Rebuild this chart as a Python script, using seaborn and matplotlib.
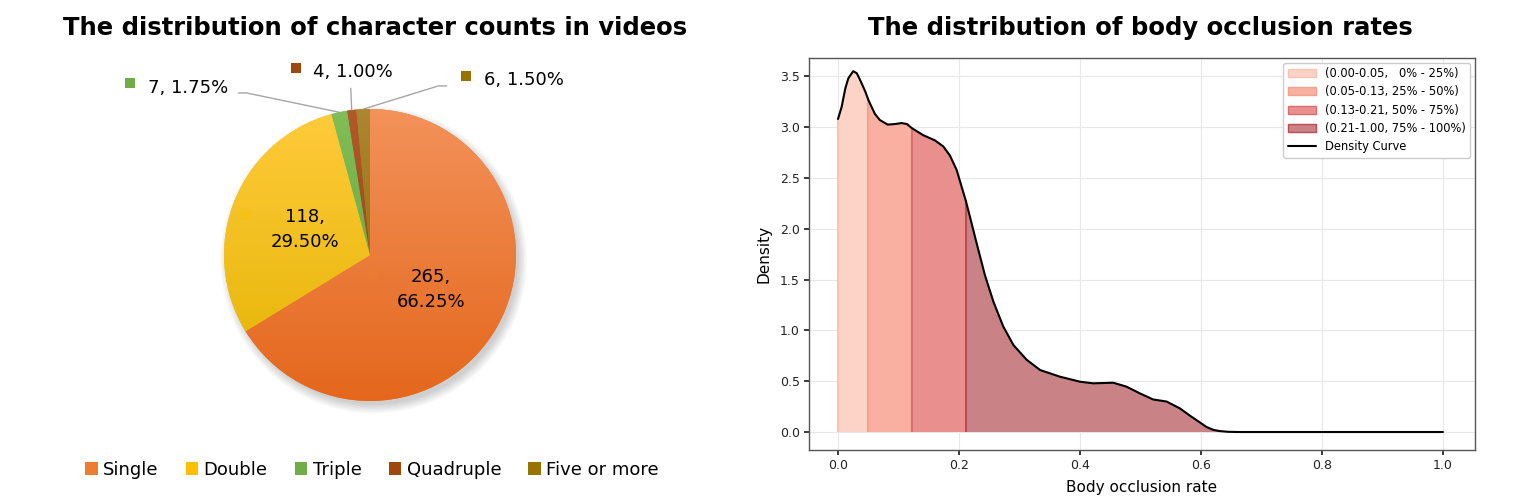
import numpy as np
import matplotlib
matplotlib.use("Agg")
import matplotlib.pyplot as plt
import seaborn as sns
from matplotlib.patches import Patch, Circle
from matplotlib.lines import Line2D
from matplotlib.colors import LinearSegmentedColormap

# ---------------- data ----------------
pie_labels = ["Single", "Double", "Triple", "Quadruple", "Five or more"]
pie_counts = [265, 118, 7, 4, 6]
pie_pcts = ["66.25%", "29.50%", "1.75%", "1.00%", "1.50%"]
pie_colors = ["#ED7D31", "#FFC000", "#70AD47", "#9E480E", "#997300"]
pie_top = ["#F3925A", "#FFCB3C", "#80BE58", "#B2592A", "#AC8730"]
pie_bot = ["#E4671C", "#E3B300", "#5F9E3A", "#8C3C0A", "#876400"]

occ_x = [0.000, 0.006, 0.012, 0.017, 0.025, 0.031, 0.036, 0.045, 0.050, 0.053,
         0.061, 0.069, 0.082, 0.094, 0.105, 0.114, 0.122, 0.141, 0.160, 0.174,
         0.185, 0.196, 0.207, 0.211, 0.218, 0.229, 0.243, 0.257, 0.273, 0.290,
         0.312, 0.334, 0.367, 0.400, 0.422, 0.455, 0.477, 0.499, 0.521, 0.543,
         0.565, 0.582, 0.598, 0.609, 0.620, 0.631, 0.645, 0.660, 0.700, 1.000]
occ_density = [3.08, 3.20, 3.38, 3.48, 3.55, 3.53, 3.47, 3.35, 3.27, 3.23,
               3.13, 3.07, 3.025, 3.03, 3.04, 3.03, 2.99, 2.92, 2.87, 2.81,
               2.72, 2.58, 2.36, 2.28, 2.12, 1.86, 1.54, 1.28, 1.04, 0.855,
               0.71, 0.61, 0.544, 0.495, 0.479, 0.485, 0.446, 0.38, 0.32, 0.30,
               0.233, 0.16, 0.095, 0.05, 0.022, 0.009, 0.002, 0.0, 0.0, 0.0]
quantile_edges = [0.0, 0.05, 0.122, 0.211, 1.0]
quantile_labels = ["(0.00-0.05,   0% - 25%)", "(0.05-0.13, 25% - 50%)",
                   "(0.13-0.21, 50% - 75%)", "(0.21-1.00, 75% - 100%)"]
band_face = ["#FDD3C7", "#F9B0A1", "#E9908F", "#C98286"]
band_edge = ["#F9C3B3", "#F4A08A", "#DC6D6E", "#C04B53"]

# ---------------- style ----------------
sns.set_theme(style="whitegrid", rc={
    "axes.edgecolor": "#555555", "axes.linewidth": 1.0,
    "grid.color": "#E8E8E8", "grid.linewidth": 0.8,
    "xtick.bottom": True, "ytick.left": True,
    "xtick.major.size": 3.5, "ytick.major.size": 3.5,
    "xtick.color": "#222222", "ytick.color": "#222222",
    "text.color": "black", "axes.labelcolor": "black",
})
plt.rcParams["font.family"] = ["DejaVu Sans"]

W, H = 1522, 498
fig = plt.figure(figsize=(W / 100, H / 100), dpi=100)

# ---------------- pie ----------------
R = 146.0
cx, cy = 370.0, 255.0
axp = fig.add_axes([0, 0, 761 / W, 1])
axp.set_axis_off()

# soft shadow (bottom-right)
for k in range(7):
    axp.add_patch(Circle((0.025, -0.035), 0.99 + 0.01 * k, color="#000000",
                         alpha=0.028, lw=0, zorder=0))

wedges, _ = axp.pie(pie_counts, startangle=90, counterclock=False, radius=1,
                    colors=pie_colors, wedgeprops=dict(linewidth=0), center=(0, 0))
grad = np.linspace(0, 1, 256).reshape(-1, 1)
for w, ct, cb in zip(wedges, pie_top, pie_bot):
    cmap = LinearSegmentedColormap.from_list("g", [cb, ct])
    im = axp.imshow(grad, extent=(-1, 1, -1, 1), origin="lower", cmap=cmap,
                    aspect="auto", zorder=2, interpolation="bilinear")
    im.set_clip_path(w)

axp.set_xlim(-cx / R, (761 - cx) / R)
axp.set_ylim((cy - H) / R, cy / R)
axp.set_aspect("auto")

def mid_angle(w):
    return np.deg2rad((w.theta1 + w.theta2) / 2)

# inner labels
for i in (0, 1):
    a = mid_angle(wedges[i])
    x, y = 0.48 * np.cos(a), 0.48 * np.sin(a)
    axp.text(x, y, f"{pie_counts[i]},\n{pie_pcts[i]}", ha="center", va="center",
             fontsize=13, linespacing=1.5, zorder=5)
    axp.scatter([x - 0.40], [y + 0.10], marker="s", s=45, color=pie_colors[i],
                alpha=0.35, zorder=4, linewidths=0)

# outer labels with leader lines (marker pos, text pos, elbow pos)
outer = {
    2: ((-1.644, 1.178), (-1.52, 1.144), [(-0.90, 1.110), (-0.846, 1.110)]),
    3: ((-0.507, 1.281), (-0.39, 1.253), [(-0.132, 1.142)]),
    4: ((0.658, 1.226), (0.781, 1.199), [(0.525, 1.158), (0.468, 1.158)]),
}
for i, (mpos, tpos, elbow) in outer.items():
    a = mid_angle(wedges[i])
    ex, ey = np.cos(a), np.sin(a)
    pts = elbow + [(ex, ey)]
    axp.plot([p[0] for p in pts], [p[1] for p in pts], color="#A6A6A6", lw=1.0,
             zorder=1, clip_on=False)
    axp.scatter([mpos[0]], [mpos[1]], marker="s", s=55, color=pie_colors[i],
                zorder=4, linewidths=0, clip_on=False)
    axp.text(tpos[0], tpos[1], f"{pie_counts[i]}, {pie_pcts[i]}", ha="left",
             va="center", fontsize=13, clip_on=False)

fig.text(375 / W, 1 - 28 / H, "The distribution of character counts in videos",
         ha="center", va="center", fontsize=17.5, fontweight="bold")

pie_handles = [Patch(facecolor=c, edgecolor="none") for c in pie_colors]
fig.legend(pie_handles, pie_labels, loc="center", ncol=5,
           bbox_to_anchor=(372 / W, 1 - 470 / H), frameon=False, fontsize=13,
           handlelength=0.7, handleheight=0.7, handletextpad=0.3,
           columnspacing=1.5)

# ---------------- density ----------------
ax = fig.add_axes([809 / W, 1 - 450 / H, (1475 - 809) / W, (450 - 58) / H])
xs = np.array(occ_x)
ys = np.array(occ_density)
for k in range(4):
    lo, hi = quantile_edges[k], quantile_edges[k + 1]
    m = (xs >= lo) & (xs <= hi)
    ax.fill_between(xs[m], 0, ys[m], facecolor=band_face[k],
                    edgecolor="none", linewidth=0, zorder=2)
    # boundary line at the left edge of each band
    ax.vlines(xs[m][0], 0, ys[m][0], color=band_edge[k], lw=1.5, zorder=2.5)
sns.lineplot(x=occ_x, y=occ_density, color="black", lw=1.5, ax=ax, zorder=3)

ax.set_xlim(-0.048, 1.053)
ax.set_ylim(-0.177, 3.68)
ax.set_xticks(np.arange(0, 1.01, 0.2))
ax.set_yticks(np.arange(0, 3.51, 0.5))
ax.tick_params(labelsize=9, pad=3)
ax.set_xlabel("Body occlusion rate", fontsize=11, labelpad=6)
ax.set_ylabel("Density", fontsize=11, labelpad=6)
for s in ax.spines.values():
    s.set_visible(True)
ax.set_axisbelow(True)

handles = [Patch(facecolor=f, edgecolor=e, linewidth=1.0)
           for f, e in zip(band_face, band_edge)]
handles.append(Line2D([0], [0], color="black", lw=1.5))
ax.legend(handles, quantile_labels + ["Density Curve"], loc="upper right",
          fontsize=8.3, frameon=True, framealpha=1, edgecolor="#CCCCCC",
          borderaxespad=0.4, handlelength=2.4, labelspacing=0.45)

fig.text(1140 / W, 1 - 28 / H, "The distribution of body occlusion rates",
         ha="center", va="center", fontsize=17.5, fontweight="bold")

fig.savefig("out.png", dpi=100)
